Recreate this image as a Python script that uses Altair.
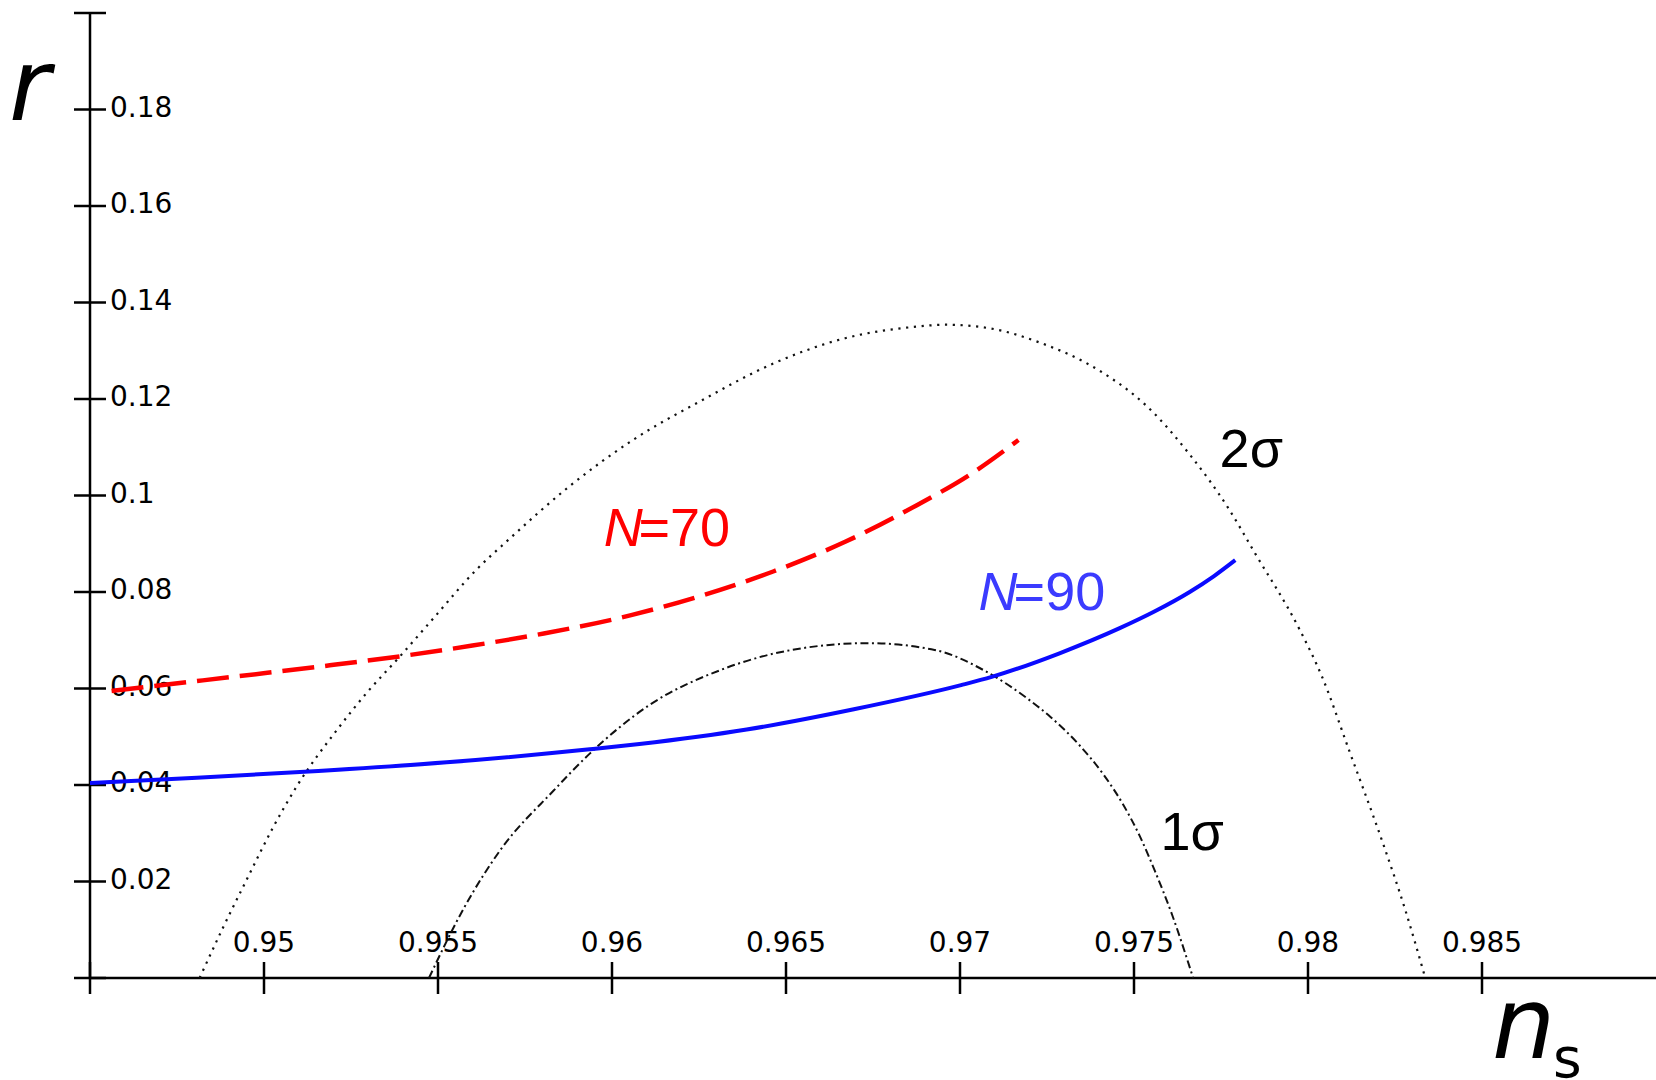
import altair as alt
import pandas as pd

# ---------------- data ----------------
sigma2_ns = [0.94815, 0.94882, 0.94949, 0.95026, 0.95093, 0.95217, 0.95294, 0.95390,
             0.95485, 0.95610, 0.95702, 0.95876, 0.96060, 0.96260, 0.96465, 0.96670,
             0.96876, 0.96958, 0.97081, 0.97229, 0.97400, 0.97540, 0.97660, 0.97770,
             0.97848, 0.97976, 0.98040, 0.98120, 0.98215, 0.98280, 0.98337]
sigma2_r = [0.0, 0.0104, 0.0202, 0.0312, 0.0396, 0.0521, 0.0590, 0.0666,
            0.0744, 0.0846, 0.0908, 0.1018, 0.1115, 0.1198, 0.1274, 0.1326,
            0.1350, 0.1354, 0.1347, 0.1317, 0.1259, 0.1183, 0.1085, 0.0975,
            0.0880, 0.0722, 0.0625, 0.0468, 0.0280, 0.0140, 0.0]

sigma1_ns = [0.95474, 0.95576, 0.95679, 0.95833, 0.95936, 0.96108, 0.96311, 0.96517,
             0.96736, 0.96927, 0.97068, 0.97194, 0.97260, 0.97340, 0.97414, 0.97470,
             0.97516, 0.97560, 0.97610, 0.97670]
sigma1_r = [0.0, 0.0147, 0.0265, 0.0389, 0.0465, 0.0566, 0.0638, 0.0680,
            0.0694, 0.0680, 0.0638, 0.0579, 0.0541, 0.0485, 0.0420, 0.0358,
            0.0295, 0.0222, 0.0130, 0.0]

n90_ns = [0.94500, 0.94807, 0.95156, 0.95525, 0.95936, 0.96079, 0.96387, 0.96695,
          0.97003, 0.97091, 0.97286, 0.97459, 0.97560, 0.97660, 0.97730, 0.97791]
n90_r = [0.0404, 0.0415, 0.0429, 0.0447, 0.0474, 0.0485, 0.0515, 0.0557,
         0.0607, 0.0624, 0.0673, 0.0725, 0.0760, 0.0800, 0.0833, 0.0866]

n70_ns = [0.94562, 0.94778, 0.95004, 0.95189, 0.95404, 0.95599, 0.95804, 0.96055,
          0.96260, 0.96465, 0.96670, 0.96876, 0.97030, 0.97168]
n70_r = [0.0595, 0.0613, 0.0632, 0.0648, 0.0668, 0.0689, 0.0714, 0.0752,
         0.0793, 0.0843, 0.0904, 0.0980, 0.1044, 0.1115]

y_tick_values = [0.0, 0.02, 0.04, 0.06, 0.08, 0.10, 0.12, 0.14, 0.16, 0.18, 0.20]
y_label_values = [0.02, 0.04, 0.06, 0.08, 0.10, 0.12, 0.14, 0.16, 0.18]
y_label_texts = ["0.02", "0.04", "0.06", "0.08", "0.1", "0.12", "0.14", "0.16", "0.18"]

x_tick_values = [0.945, 0.95, 0.955, 0.96, 0.965, 0.97, 0.975, 0.98, 0.985]
x_label_values = [0.95, 0.955, 0.96, 0.965, 0.97, 0.975, 0.98, 0.985]
x_label_texts = ["0.95", "0.955", "0.96", "0.965", "0.97", "0.975", "0.98", "0.985"]

# ---------------- scales ----------------
X0, X1 = 0.945, 0.99
Y0, Y1 = 0.0, 0.2
xs = alt.Scale(domain=[X0, X1], nice=False, zero=False)
ys = alt.Scale(domain=[Y0, Y1], nice=False, zero=False)

TICK_FONT = "DejaVu Sans"
ANN_FONT = "Liberation Sans"


def X(field):
    return alt.X(field, type="quantitative", scale=xs, axis=None)


def Y(field):
    return alt.Y(field, type="quantitative", scale=ys, axis=None)


def curve(ns, r, **mark):
    df = pd.DataFrame({"ns": ns, "r": r, "i": list(range(len(ns)))})
    return alt.Chart(df).mark_line(interpolate="monotone", **mark).encode(
        x=X("ns"), y=Y("r"), order="i:Q")


def label(text, ns, r, color, size, font, style="normal"):
    df = pd.DataFrame({"t": [text], "px": [ns], "py": [r]})
    return alt.Chart(df).mark_text(
        align="left", baseline="alphabetic", font=font, fontSize=size,
        fontStyle=style, color=color,
    ).encode(x=X("px"), y=Y("py"), text="t:N")


# axis lines
y_line = alt.Chart(pd.DataFrame({"a": [X0], "b": [Y0], "c": [Y1]})).mark_rule(
    color="black", strokeWidth=2.5).encode(x=X("a"), y=Y("b"), y2="c")
x_line = alt.Chart(pd.DataFrame({"a": [X0], "b": [X1], "c": [Y0]})).mark_rule(
    color="black", strokeWidth=2.5).encode(x=X("a"), x2="b", y=Y("c"))

# ticks crossing the axes
ytick = alt.Chart(pd.DataFrame({"v": y_tick_values, "a": X0})).mark_rule(
    color="black", strokeWidth=2.5, xOffset=-16, x2Offset=16
).encode(y=Y("v"), x=X("a"), x2="a")

xtick = alt.Chart(pd.DataFrame({"v": x_tick_values, "a": Y0})).mark_rule(
    color="black", strokeWidth=2.5, yOffset=-16, y2Offset=16
).encode(x=X("v"), y=Y("a"), y2="a")

ylabels = alt.Chart(pd.DataFrame({"v": y_label_values, "t": y_label_texts, "a": X0})).mark_text(
    align="left", baseline="alphabetic", dx=20, dy=7, font=TICK_FONT, fontSize=28,
    color="black"
).encode(y=Y("v"), x=X("a"), text="t:N")

xlabels = alt.Chart(pd.DataFrame({"v": x_label_values, "t": x_label_texts, "a": Y0})).mark_text(
    align="center", baseline="alphabetic", dy=-26, font=TICK_FONT, fontSize=28,
    color="black"
).encode(x=X("v"), y=Y("a"), text="t:N")

sig2 = curve(sigma2_ns, sigma2_r, color="#111111", strokeWidth=2.2,
             strokeDash=[2.2, 5.6])
sig1 = curve(sigma1_ns, sigma1_r, color="#111111", strokeWidth=2,
             strokeDash=[8, 3.5, 2, 3.5])
red = curve(n70_ns, n70_r, color="#ff0000", strokeWidth=4.5, strokeDash=[32, 11])
blue = curve(n90_ns, n90_r, color="#0a0aff", strokeWidth=4)

anns = [
    label("r", 0.94267, 0.17782, "black", 100, "DejaVu Sans", "italic"),
    label("n", 0.98529, -0.01658, "black", 100, "DejaVu Sans", "italic"),
    label("s", 0.98704, -0.02046, "black", 55, "DejaVu Sans"),
    label("N", 0.95976, 0.08953, "#ff0000", 54, ANN_FONT, "italic"),
    label("=70", 0.96076, 0.08953, "#ff0000", 54, ANN_FONT),
    label("N", 0.97053, 0.07625, "#3b3bff", 54, ANN_FONT, "italic"),
    label("=90", 0.97154, 0.07625, "#3b3bff", 54, ANN_FONT),
    label("2σ", 0.97746, 0.10597, "black", 54, ANN_FONT),
    label("1σ", 0.97576, 0.02648, "black", 54, ANN_FONT),
]

chart = alt.layer(
    y_line, x_line, ytick, xtick, ylabels, xlabels, sig2, sig1, red, blue, *anns
).properties(
    width=1566, height=965, autosize="none", background="white",
    padding={"left": 90, "top": 13, "right": 0, "bottom": 102},
).configure_view(stroke="transparent", strokeWidth=0)

chart.save("out.html", embed_options={"renderer": "svg", "actions": False})
